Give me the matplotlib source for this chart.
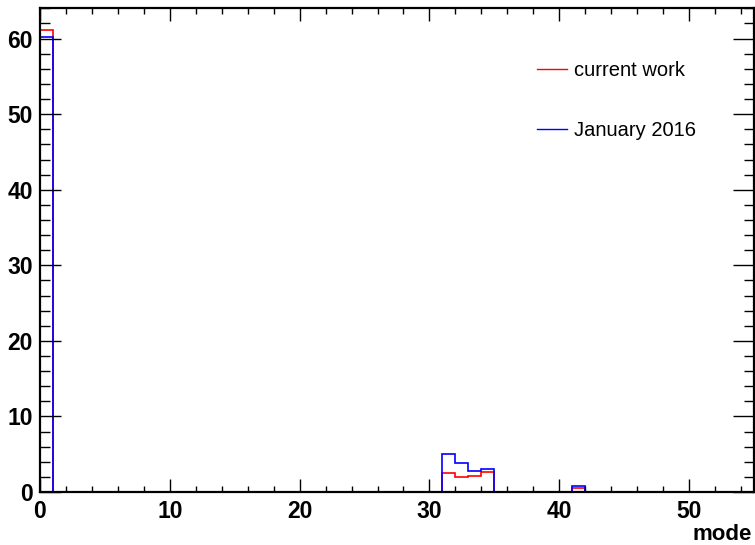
import numpy as np
import matplotlib
matplotlib.use("Agg")
import matplotlib.pyplot as plt
from matplotlib.ticker import MultipleLocator
from matplotlib.lines import Line2D

plt.rcParams['font.family'] = ['Liberation Sans', 'DejaVu Sans']

# histogram: 55 bins of width 1 on "mode"
edges = np.arange(0, 56, 1)
current_bins = [0, 31, 32, 33, 34, 41]
current_vals = [61.1, 2.5, 2.0, 2.1, 2.6, 0.5]
jan2016_bins = [0, 31, 32, 33, 34, 41]
jan2016_vals = [60.2, 5.0, 3.9, 2.8, 3.1, 0.85]

current = np.zeros(55)
current[current_bins] = current_vals
jan2016 = np.zeros(55)
jan2016[jan2016_bins] = jan2016_vals

fig = plt.figure(figsize=(7.55, 5.45), dpi=100)
ax = fig.add_axes([40 / 755, 1 - 492 / 545, 714 / 755, 484 / 545])

ax.stairs(current, edges, color='#ff0000', lw=1.2, baseline=0)
ax.stairs(jan2016, edges, color='#0000ff', lw=1.2, baseline=0)

ax.set_xlim(0, 55)
ax.set_ylim(0, 64.05)

ax.xaxis.set_major_locator(MultipleLocator(10))
ax.xaxis.set_minor_locator(MultipleLocator(2))
ax.yaxis.set_major_locator(MultipleLocator(10))
ax.yaxis.set_minor_locator(MultipleLocator(2))

ax.tick_params(axis='both', which='both', direction='in', top=True, right=True,
               width=1.0, colors='black')
ax.tick_params(axis='x', which='major', length=9.5, pad=6)
ax.tick_params(axis='x', which='minor', length=4.5)
ax.tick_params(axis='y', which='major', length=15, pad=5)
ax.tick_params(axis='y', which='minor', length=7.5)
for lab in ax.get_xticklabels() + ax.get_yticklabels():
    lab.set_fontsize(16.5)
    lab.set_fontweight('bold')

for s in ax.spines.values():
    s.set_linewidth(1.6)

fig.text(752 / 755, 1 - 535 / 545, 'mode', ha='right', va='center',
         fontsize=16, fontweight='bold')

handles = [Line2D([], [], color='#ff0000', lw=1.0),
           Line2D([], [], color='#0000ff', lw=1.0)]
ax.legend(handles, ['current work', 'January 2016'], loc='upper left',
          bbox_to_anchor=(479 / 714, 449 / 484), frameon=False,
          fontsize=14.5, handlelength=1.5, handletextpad=0.35, labelspacing=2.05)

fig.savefig('out.png', dpi=100)
